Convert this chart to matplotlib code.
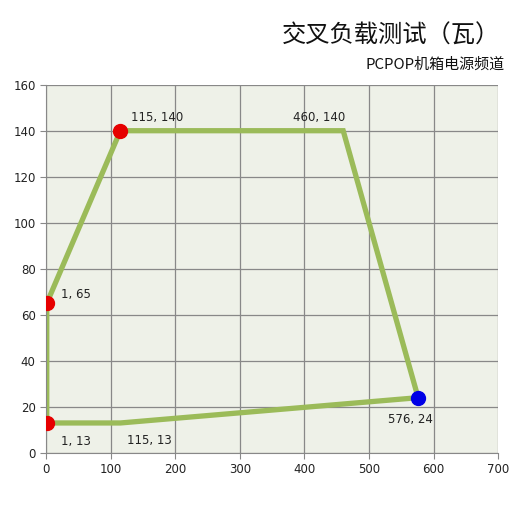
import matplotlib
matplotlib.use("Agg")
import matplotlib.pyplot as plt

plt.rcParams['font.family'] = ['Noto Sans CJK SC', 'DejaVu Sans']

# 多边形路径（瓦）
path_x = [1, 1, 115, 460, 576, 115, 1]
path_y = [13, 65, 140, 140, 24, 13, 13]

# 标注点
red_x = [1, 115, 1]
red_y = [65, 140, 13]
blue_x = [576]
blue_y = [24]

label_x = [115, 460, 1, 1, 115, 576]
label_y = [140, 140, 65, 13, 13, 24]
label_off = [(8, 7), (-36, 7), (10, 4), (10, -16), (5, -15), (-22, -18)]

fig = plt.figure(figsize=(5.3, 5.26), dpi=100)
ax = fig.add_axes([0.087, 0.139, 0.853, 0.700])
ax.set_facecolor('#eef1e8')

ax.plot(path_x, path_y, color='#9bbb59', lw=3.8, solid_joinstyle='miter', zorder=2)
ax.plot(red_x, red_y, 'o', color='#e60000', ms=10, zorder=3)
ax.plot(blue_x, blue_y, 'o', color='#0000e6', ms=10, zorder=3)

for x, y, off in zip(label_x, label_y, label_off):
    ax.annotate(f"{x}, {y}", (x, y), xytext=off, textcoords='offset points',
                fontsize=8.5, color='#222222', family=['DejaVu Sans'])

ax.set_xlim(0, 700)
ax.set_ylim(0, 160)
ax.set_xticks(range(0, 701, 100))
ax.set_yticks(range(0, 161, 20))
ax.grid(True, color='#888888', lw=0.9)
ax.set_axisbelow(True)
for s in ['top', 'right']:
    ax.spines[s].set_visible(False)
for s in ['left', 'bottom']:
    ax.spines[s].set_color('#888888')
ax.tick_params(colors='#888888', labelcolor='#222222', labelsize=8.5, length=4)
for lab in ax.get_xticklabels() + ax.get_yticklabels():
    lab.set_family(['DejaVu Sans'])

fig.text(0.943, 0.933, "交叉负载测试（瓦）", ha='right', va='center', fontsize=17.5,
         color='#111111', fontweight='medium')
fig.text(0.952, 0.878, "PCPOP机箱电源频道", ha='right', va='center', fontsize=10.8, color='#111111')

fig.savefig('out.png', dpi=100)
